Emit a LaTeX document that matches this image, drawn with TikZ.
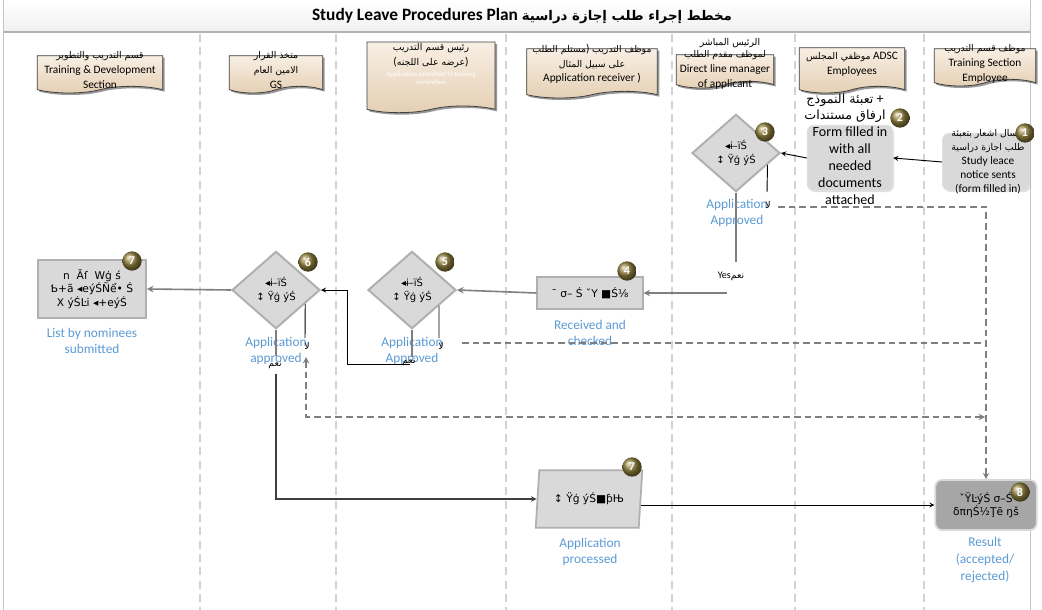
\documentclass[tikz,border=0pt]{standalone}
\usepackage{fontspec}
\setmainfont{Carlito}
\newfontfamily\arabicfont[Script=Arabic]{DejaVu Sans}
\newfontfamily\garblefont{DejaVu Sans}
\TeXXeTstate=1
\usetikzlibrary{shapes.geometric,shapes.symbols,shadows,calc}
\tikzset{>=stealth}
\definecolor{beigetop}{HTML}{F8EFE4}
\definecolor{beigebot}{HTML}{E4CFB3}
\definecolor{boxgray}{HTML}{D9D9D9}
\definecolor{edgegray}{HTML}{B0B0B0}
\definecolor{linegray}{HTML}{7F7F7F}
\definecolor{darkbox}{HTML}{A6A6A6}
\definecolor{labelblue}{HTML}{5B9BD5}
\definecolor{badgeolive}{HTML}{948440}
\newcommand{\artext}[1]{{\arabicfont\beginR #1\endR}}
\newcommand{\arsmall}[1]{{\arabicfont\fontsize{7}{11}\selectfont\beginR #1\endR}}
\newcommand{\arbig}[1]{{\arabicfont\fontsize{9.5}{12}\selectfont\beginR #1\endR}}
\newcommand{\whitetiny}[1]{{\color{white}\fontsize{5}{6}\selectfont #1}}

\begin{document}
\begin{tikzpicture}[x=0.75pt,y=-0.75pt,
  lane/.style={gray!35, dash pattern=on 6pt off 4pt, line width=0.9pt},
  lanehead/.style={tape, tape bend top=none, tape bend bottom=in and out, tape bend height=5pt,
    draw=black!75, line width=0.6pt, top color=beigetop, bottom color=beigebot,
    drop shadow={shadow xshift=1.5pt, shadow yshift=-1.5pt, fill=black!80}, inner sep=0pt},
  headtext/.style={align=center, font=\fontsize{8.5}{11}\selectfont, inner sep=0pt},
  softbox/.style={rectangle, rounded corners=5pt, fill=boxgray, draw=gray!25, line width=0.8pt,
    drop shadow={shadow xshift=1pt, shadow yshift=-1pt, opacity=0.25}},
  procbox/.style={rectangle, fill=boxgray, draw=edgegray, line width=1.3pt, inner sep=1pt,
    align=center, font=\garblefont\fontsize{8}{10}\selectfont},
  decision/.style={diamond, fill=boxgray, draw=edgegray, line width=1.5pt, minimum width=66pt,
    minimum height=58pt, inner sep=0pt, align=center, font=\garblefont\fontsize{7.5}{10}\selectfont},
  badge/.style={circle, shading=ball, ball color=badgeolive, minimum size=14.5pt, inner sep=0pt,
    text=white, font=\bfseries\fontsize{9}{9}\selectfont},
  bluelabel/.style={text=labelblue, align=center, font=\fontsize{10}{12.4}\selectfont, inner sep=0pt},
  tinylabel/.style={font=\fontsize{7.5}{8}\selectfont, inner sep=0pt},
  flow/.style={->, black, line width=0.7pt},
  flowg/.style={->, linegray, line width=1.2pt},
  plaing/.style={linegray, line width=1.2pt},
  dashflow/.style={linegray, dash pattern=on 5pt off 3pt, line width=1.1pt},
  ]
\useasboundingbox (0,0) rectangle (1042,610);
\fill[white] (0,0) rectangle (1042,610);
% title bar and frame
\shade[top color=white, bottom color=gray!12] (3,2) rectangle (1030,32);
\draw[gray!45] (3,0) -- (3,610);
\draw[gray!45] (1030,0) -- (1030,610);
\draw[gray!60, line width=1pt] (3,32) -- (1030,32);
\node[font=\bfseries\fontsize{13}{15}\selectfont] (title) at (522,16)
  {Study Leave Procedures Plan {\arabicfont\fontsize{10}{14}\selectfont\beginR مخطط إجراء طلب إجازة دراسية\endR}};
% swimlanes
\foreach \x in {200,336,506,672,795,924}
  \draw[lane] (\x,34) -- (\x,610);

% lane headers
\node[lanehead, minimum width=94pt, minimum height=28pt] (hd1) at (100,71) {};
\node[lanehead, minimum width=70pt, minimum height=28pt] (hd2) at (276,71) {};
\node[lanehead, minimum width=96pt, minimum height=53pt] (hd3) at (431,74) {};
\node[lanehead, minimum width=98pt, minimum height=37pt] (hd4) at (592,70) {};
\node[lanehead, minimum width=73pt, minimum height=25pt] (hd5) at (725,68) {};
\node[lanehead, minimum width=79pt, minimum height=34pt] (hd6) at (852,67) {};
\node[lanehead, minimum width=76pt, minimum height=28pt] (hd7) at (985,64) {};
\node[headtext] (hd1t) at (100,70) {\arsmall{قسم التدريب والتطوير}\\Training \& Development\\Section};
\node[headtext] (hd2t) at (276,70) {\arsmall{متخذ القرار}\\\arsmall{الامين العام}\\GS};
\node[headtext] (hd3t) at (431,64) {\arsmall{رئيس قسم التدريب}\\(\arsmall{عرضه على اللجنه})\\[-3pt]
  \whitetiny{Application submitted to training}\\[-5pt]\whitetiny{committee}};
\node[headtext] (hd4t) at (592,64) {\arsmall{مستلم الطلب}) \arsmall{موظف التدريب}\\\arsmall{على سبيل المثال}\\Application receiver )};
\node[headtext] (hd5top) at (730,43) {\arsmall{الرئيس المباشر}};
\node[headtext] (hd5t) at (725,70) {\arsmall{لموظف مقدم الطلب}\\Direct line manager\\of applicant};
\node[headtext] (hd6t) at (852,64) {\arsmall{موظفي المجلس} ADSC\\Employees};
\node[headtext] (hd7t) at (985,64) {\arsmall{موظف قسم التدريب}\\Training Section\\Employee};

% steps 1-3
\node[softbox, minimum width=65pt, minimum height=43pt] (n1) at (986,162) {};
\node[headtext, font=\fontsize{8.5}{10.5}\selectfont] (n1t) at (988,162)
  {\arsmall{ارسال اشعار بتعبئة}\\\arsmall{طلب اجازة دراسية}\\Study leace\\notice sents\\(form filled in)};
\node[softbox, minimum width=64pt, minimum height=49pt] (n2) at (850,158) {};
\node[headtext, font=\fontsize{10.5}{12.75}\selectfont] (n2t) at (850,166)
  {Form filled in\\with all\\needed\\documents\\attached};
\node[headtext, font=\fontsize{10.5}{12}\selectfont] (n2top) at (845,108)
  {\arbig{تعبئة النموذج} +\\\arbig{ارفاق مستندات}};
\node[decision] (n3) at (736,153) {◂ɨ–ïŚ\\↕ Ÿģ ýŚ};
\node[bluelabel] (l3) at (737,213) {Application\\Approved};

% steps 4-7
\node[procbox, minimum width=79pt, minimum height=24pt] (n4) at (590,293) {¯ σ– Ś ˇΥ ■Ś⅛};
\node[bluelabel] (l4) at (590,333) {Received and\\checked};
\node[decision] (n5) at (412,290) {◂ɨ–ïŚ\\↕ Ÿģ ýŚ};
\node[bluelabel] (l5) at (412,351) {Application\\Approved};
\node[decision] (n6) at (276,290) {◂ɨ–ïŚ\\↕ Ÿģ ýŚ};
\node[bluelabel] (l6) at (276,351) {Application\\approved};
\node[procbox, minimum width=81pt, minimum height=43.5pt] (n7a) at (92,289)
  {n \ Āſ \ Wģ ś\\Ƅ+ã ◂eýŚÑể• Ś\\X ýŚĿi ◂+eýŚ};
\node[bluelabel] (l7a) at (92,341) {List by nominees\\submitted};
\node[procbox, trapezium, trapezium left angle=80, trapezium right angle=100,
  trapezium stretches=true, minimum width=80pt, minimum height=43pt] (n7b) at (589,499) {↕ Ÿģ ýŚ■ƥЊ};
\node[bluelabel] (l7b) at (590,552) {Application\\processed};
\node[procbox, rounded corners=5pt, fill=darkbox, draw=gray!30, minimum width=76pt,
  minimum height=37.5pt] (n8) at (986,505) {ˇŸĿýŚ σ–Ś\\δπηŚ½Ţē ŋš};
\node[bluelabel] (l8) at (985,560) {Result\\(accepted/\\rejected)};

% numbered badges
\node[badge] (b1) at (1025,133) {1};
\node[badge] (b2) at (900,118) {2};
\node[badge] (b3) at (765,132) {3};
\node[badge] (b4) at (627,271) {4};
\node[badge] (b5) at (445,262) {5};
\node[badge] (b6) at (308,262) {6};
\node[badge] (b7a) at (132,261) {7};
\node[badge] (b7b) at (632,467) {7};
\node[badge] (b8) at (1020,492) {8};

% connectors
\draw[flow] (n1.west) -- (n2.east);
\draw[flow] (n2.west) -- (n3.east);
\coordinate (c3y) at (736,262);
\coordinate (c3yb) at (727,293);
\draw[plaing] (n3.south) -- (c3y);
\node[tinylabel] (yes3) at (731,276) {Yes\arsmall{نعم}};
\draw[flowg] (c3yb) -- (n4.east);
\coordinate (c3n) at (767,192);
\draw[black, line width=0.7pt] ($(n3.east)!0.3!(n3.south)$) -- (c3n);
\node[tinylabel] (no3) at (768,205) {\arsmall{لا}};
\coordinate (c3d) at (778,207);
\draw[dashflow, ->] (c3d) -| (n8.north);

\draw[flowg] (n4.west) -- (n5.east);
\coordinate (c5n) at (439,338);
\draw[black, line width=0.7pt] ($(n5.east)!0.4!(n5.south)$) -- (c5n);
\node[tinylabel] (no5) at (441,346) {\arsmall{لا}};
\coordinate (c5d) at (462,343);
\draw[dashflow] (c5d) -- (c5d -| n8.north);
\coordinate (c5y) at (412,357);
\draw[plaing] (n5.south) -- (c5y);
\node[tinylabel] (yes5) at (409,362) {\arsmall{نعم}};
\coordinate (c5yb) at (410,364);
\coordinate (c5x) at (347,364);
\draw[flow] (c5yb) -- (c5x) |- (n6.east);

\coordinate (c6n) at (305,338);
\draw[black, line width=0.7pt] ($(n6.east)!0.35!(n6.south)$) -- (c6n);
\node[tinylabel] (no6) at (307,346) {\arsmall{لا}};
\coordinate (c6a) at (306,357);
\coordinate (c6b) at (985,417);
\draw[dashflow, <->] (c6a) |- (c6b);
\coordinate (c6y) at (276,356);
\draw[plaing] (n6.south) -- (c6y);
\node[tinylabel] (yes6) at (275,365) {\arsmall{نعم}};
\coordinate (c6yb) at (276,374);
\draw[flow, linegray!50!black, line width=0.9pt] (c6yb) |- (n7b.west);
\draw[flowg] (n6.west) -- (n7a.east);
\draw[flow] (n7b.east |- n8.west) -- (n8.west);
\end{tikzpicture}
\end{document}
